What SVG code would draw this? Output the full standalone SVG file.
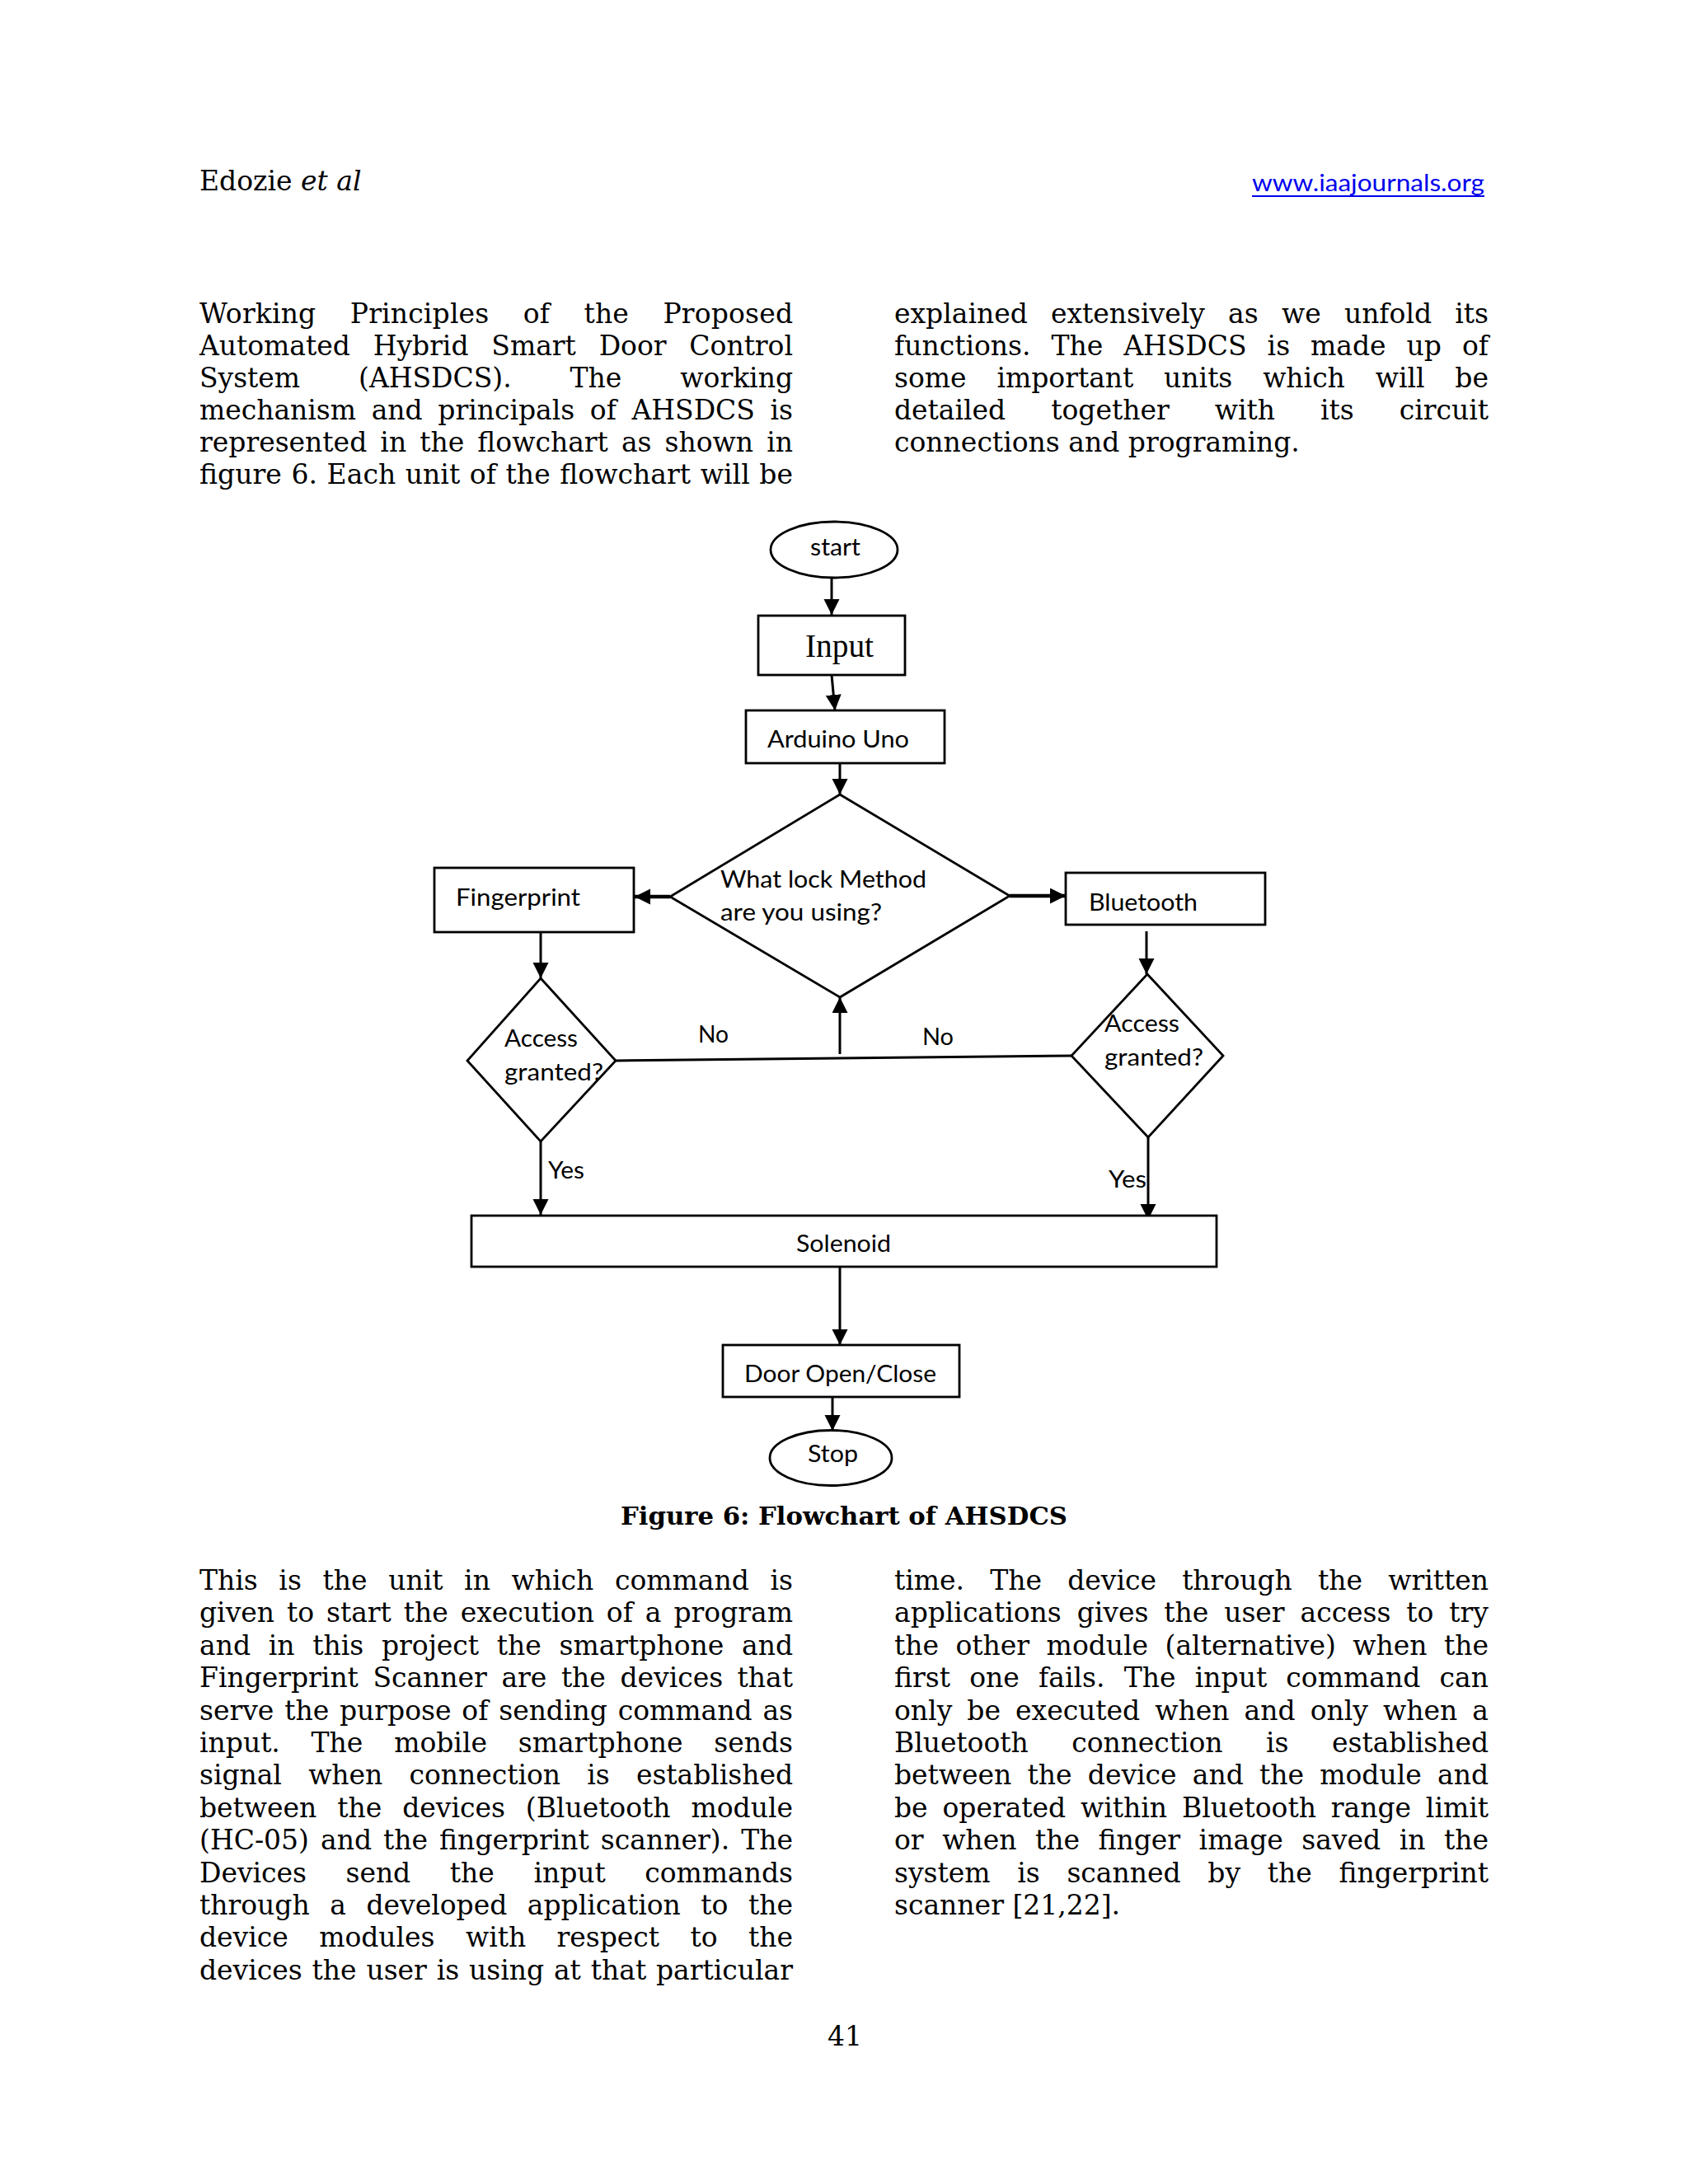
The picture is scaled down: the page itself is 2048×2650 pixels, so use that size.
<svg xmlns="http://www.w3.org/2000/svg" width="2048" height="2650" viewBox="0 0 2048 2650">
<defs>
<style>
.body{font-family:"DejaVu Serif","Liberation Serif",serif;font-size:33px;fill:#000}
.lbl{font-family:Lato,"Liberation Sans",sans-serif;font-size:28px;fill:#000}
.shape{fill:#fff;stroke:#000;stroke-width:2.8}
.conn{fill:none;stroke:#000;stroke-width:3}
.thick{stroke-width:4.5}
</style>
<marker id="ah" markerUnits="userSpaceOnUse" markerWidth="20" markerHeight="20" refX="19" refY="9.5" orient="auto">
<path d="M0,0 L19,9.5 L0,19 Z" fill="#000"/>
</marker>
</defs>
<rect width="2048" height="2650" fill="#fff"/>

<!-- header -->
<text class="body" x="242" y="231">Edozie <tspan font-style="italic">et al</tspan></text>
<text x="1519" y="232" font-family="Lato,'Liberation Sans',sans-serif" font-size="28" fill="#0000EE" textLength="282" lengthAdjust="spacingAndGlyphs">www.iaajournals.org</text>
<line x1="1519" y1="238" x2="1801" y2="238" stroke="#0000EE" stroke-width="2"/>

<!-- top paragraph left -->
<text class="body" x="242" y="392" word-spacing="30.7" textLength="720" lengthAdjust="spacing">Working Principles of the Proposed</text>
<text class="body" x="242" y="431" word-spacing="17.4" textLength="720" lengthAdjust="spacing">Automated Hybrid Smart Door Control</text>
<text class="body" x="242" y="470" word-spacing="60.5" textLength="720" lengthAdjust="spacing">System (AHSDCS). The working</text>
<text class="body" x="242" y="509" word-spacing="8.2" textLength="720" lengthAdjust="spacing">mechanism and principals of AHSDCS is</text>
<text class="body" x="242" y="548" word-spacing="5.6" textLength="720" lengthAdjust="spacing">represented in the flowchart as shown in</text>
<text class="body" x="242" y="587" word-spacing="1.1" textLength="720" lengthAdjust="spacing">figure 6. Each unit of the flowchart will be</text>

<!-- top paragraph right -->
<text class="body" x="1085" y="392" word-spacing="17.8" textLength="721" lengthAdjust="spacing">explained extensively as we unfold its</text>
<text class="body" x="1085" y="431" word-spacing="14.5" textLength="721" lengthAdjust="spacing">functions. The AHSDCS is made up of</text>
<text class="body" x="1085" y="470" word-spacing="26.4" textLength="721" lengthAdjust="spacing">some important units which will be</text>
<text class="body" x="1085" y="509" word-spacing="44.6" textLength="721" lengthAdjust="spacing">detailed together with its circuit</text>
<text class="body" x="1085" y="548">connections and programing.</text>

<!-- flowchart connectors -->
<g id="connectors">
<line class="conn" x1="1009" y1="701" x2="1009" y2="746" marker-end="url(#ah)"/>
<line class="conn" x1="1009" y1="819" x2="1013" y2="862" marker-end="url(#ah)"/>
<line class="conn" x1="1019" y1="927" x2="1019" y2="964" marker-end="url(#ah)"/>
<line class="conn thick" x1="813" y1="1088" x2="770" y2="1088" marker-end="url(#ah)"/>
<line class="conn thick" x1="1225" y1="1087" x2="1293" y2="1087" marker-end="url(#ah)"/>
<line class="conn" x1="656" y1="1128" x2="656" y2="1187" marker-end="url(#ah)"/>
<line class="conn" x1="1391" y1="1130" x2="1391" y2="1182" marker-end="url(#ah)"/>
<line class="conn" x1="747" y1="1287" x2="1300" y2="1281"/>
<line class="conn" x1="1019" y1="1279" x2="1019" y2="1210" marker-end="url(#ah)"/>
<line class="conn" x1="656" y1="1385" x2="656" y2="1474" marker-end="url(#ah)"/>
<line class="conn" x1="1393" y1="1380" x2="1393" y2="1480" marker-end="url(#ah)"/>
<line class="conn" x1="1019" y1="1537" x2="1019" y2="1632" marker-end="url(#ah)"/>
<line class="conn" x1="1010" y1="1695" x2="1010" y2="1736" marker-end="url(#ah)"/>
<text class="lbl" x="847" y="1265" textLength="37" lengthAdjust="spacingAndGlyphs">No</text>
<text class="lbl" x="1119" y="1268" textLength="38" lengthAdjust="spacingAndGlyphs">No</text>
<text class="lbl" x="665" y="1430" textLength="44" lengthAdjust="spacingAndGlyphs">Yes</text>
<text class="lbl" x="1345" y="1441" textLength="46" lengthAdjust="spacingAndGlyphs">Yes</text>
</g>

<g id="start">
<ellipse class="shape" cx="1012" cy="667" rx="77" ry="34"/>
<text class="lbl" x="983" y="674" textLength="61" lengthAdjust="spacingAndGlyphs">start</text>
</g>
<g id="input">
<rect class="shape" x="920" y="747" width="178" height="72"/>
<text x="977" y="797" font-family="'Liberation Serif',serif" font-size="40" textLength="83" lengthAdjust="spacingAndGlyphs">Input</text>
</g>
<g id="arduino">
<rect class="shape" x="905" y="862" width="241" height="64"/>
<text class="lbl" x="931" y="907" textLength="172" lengthAdjust="spacingAndGlyphs">Arduino Uno</text>
</g>
<g id="method">
<polygon class="shape" points="1019,964 1225,1087 1019,1210 813,1088"/>
<text class="lbl" x="874" y="1077" textLength="250" lengthAdjust="spacingAndGlyphs">What lock Method</text>
<text class="lbl" x="874" y="1117" textLength="196" lengthAdjust="spacingAndGlyphs">are you using?</text>
</g>
<g id="fingerprint">
<rect class="shape" x="527" y="1053" width="242" height="78"/>
<text class="lbl" x="553" y="1099" textLength="151" lengthAdjust="spacingAndGlyphs">Fingerprint</text>
</g>
<g id="bluetooth">
<rect class="shape" x="1293" y="1059" width="242" height="63"/>
<text class="lbl" x="1321" y="1105" textLength="132" lengthAdjust="spacingAndGlyphs">Bluetooth</text>
</g>
<g id="access-fp">
<polygon class="shape" points="656,1187 747,1287 656,1385 567,1287"/>
<text class="lbl" x="612" y="1270" textLength="89" lengthAdjust="spacingAndGlyphs">Access</text>
<text class="lbl" x="612" y="1311" textLength="120" lengthAdjust="spacingAndGlyphs">granted?</text>
</g>
<g id="access-bt">
<polygon class="shape" points="1392,1182 1484,1281 1393,1380 1300,1281"/>
<text class="lbl" x="1340" y="1252" textLength="91" lengthAdjust="spacingAndGlyphs">Access</text>
<text class="lbl" x="1340" y="1293" textLength="120" lengthAdjust="spacingAndGlyphs">granted?</text>
</g>
<g id="solenoid">
<rect class="shape" x="572" y="1475" width="904" height="62"/>
<text class="lbl" x="966" y="1519" textLength="115" lengthAdjust="spacingAndGlyphs">Solenoid</text>
</g>
<g id="door">
<rect class="shape" x="877" y="1632" width="287" height="63"/>
<text class="lbl" x="903" y="1677" textLength="233" lengthAdjust="spacingAndGlyphs">Door Open/Close</text>
</g>
<g id="stop">
<ellipse class="shape" cx="1008" cy="1769" rx="74" ry="33.5"/>
<text class="lbl" x="980" y="1774" textLength="61" lengthAdjust="spacingAndGlyphs">Stop</text>
</g>

<text x="753" y="1850" font-family="'DejaVu Serif','Liberation Serif',serif" font-size="30" font-weight="bold" textLength="542" lengthAdjust="spacingAndGlyphs">Figure 6: Flowchart of AHSDCS</text>

<!-- bottom paragraph left -->
<text class="body" x="242" y="1929" word-spacing="15.2" textLength="720" lengthAdjust="spacing">This is the unit in which command is</text>
<text class="body" x="242" y="1968" word-spacing="4.5" textLength="720" lengthAdjust="spacing">given to start the execution of a program</text>
<text class="body" x="242" y="2008" word-spacing="11.3" textLength="720" lengthAdjust="spacing">and in this project the smartphone and</text>
<text class="body" x="242" y="2047" word-spacing="7.1" textLength="720" lengthAdjust="spacing">Fingerprint Scanner are the devices that</text>
<text class="body" x="242" y="2087" word-spacing="2.4" textLength="720" lengthAdjust="spacing">serve the purpose of sending command as</text>
<text class="body" x="242" y="2126" word-spacing="27.3" textLength="720" lengthAdjust="spacing">input. The mobile smartphone sends</text>
<text class="body" x="242" y="2165" word-spacing="21.9" textLength="720" lengthAdjust="spacing">signal when connection is established</text>
<text class="body" x="242" y="2205" word-spacing="14.5" textLength="720" lengthAdjust="spacing">between the devices (Bluetooth module</text>
<text class="body" x="242" y="2244" word-spacing="3.5" textLength="720" lengthAdjust="spacing">(HC-05) and the fingerprint scanner). The</text>
<text class="body" x="242" y="2284" word-spacing="37.2" textLength="720" lengthAdjust="spacing">Devices send the input commands</text>
<text class="body" x="242" y="2323" word-spacing="14.1" textLength="720" lengthAdjust="spacing">through a developed application to the</text>
<text class="body" x="242" y="2362" word-spacing="27" textLength="720" lengthAdjust="spacing">device modules with respect to the</text>
<text class="body" x="242" y="2402" word-spacing="1.4" textLength="720" lengthAdjust="spacing">devices the user is using at that particular</text>

<!-- bottom paragraph right -->
<text class="body" x="1085" y="1929" word-spacing="20.7" textLength="721" lengthAdjust="spacing">time.  The device through the written</text>
<text class="body" x="1085" y="1968" word-spacing="8.5" textLength="721" lengthAdjust="spacing">applications gives the user access to try</text>
<text class="body" x="1085" y="2008" word-spacing="10.1" textLength="721" lengthAdjust="spacing">the other module (alternative) when the</text>
<text class="body" x="1085" y="2047" word-spacing="12.7" textLength="721" lengthAdjust="spacing">first one fails. The input command can</text>
<text class="body" x="1085" y="2087" word-spacing="7.6" textLength="721" lengthAdjust="spacing">only be executed when and only when a</text>
<text class="body" x="1085" y="2126" word-spacing="42.2" textLength="721" lengthAdjust="spacing">Bluetooth connection is established</text>
<text class="body" x="1085" y="2165" word-spacing="8.8" textLength="721" lengthAdjust="spacing">between the device and the module and</text>
<text class="body" x="1085" y="2205" word-spacing="7.4" textLength="721" lengthAdjust="spacing">be operated within Bluetooth range limit</text>
<text class="body" x="1085" y="2244" word-spacing="12" textLength="721" lengthAdjust="spacing">or when the finger image saved in the</text>
<text class="body" x="1085" y="2284" word-spacing="22.2" textLength="721" lengthAdjust="spacing">system is scanned by the fingerprint</text>
<text class="body" x="1085" y="2323">scanner [21,22].</text>

<text class="body" x="1004" y="2482">41</text>
</svg>
